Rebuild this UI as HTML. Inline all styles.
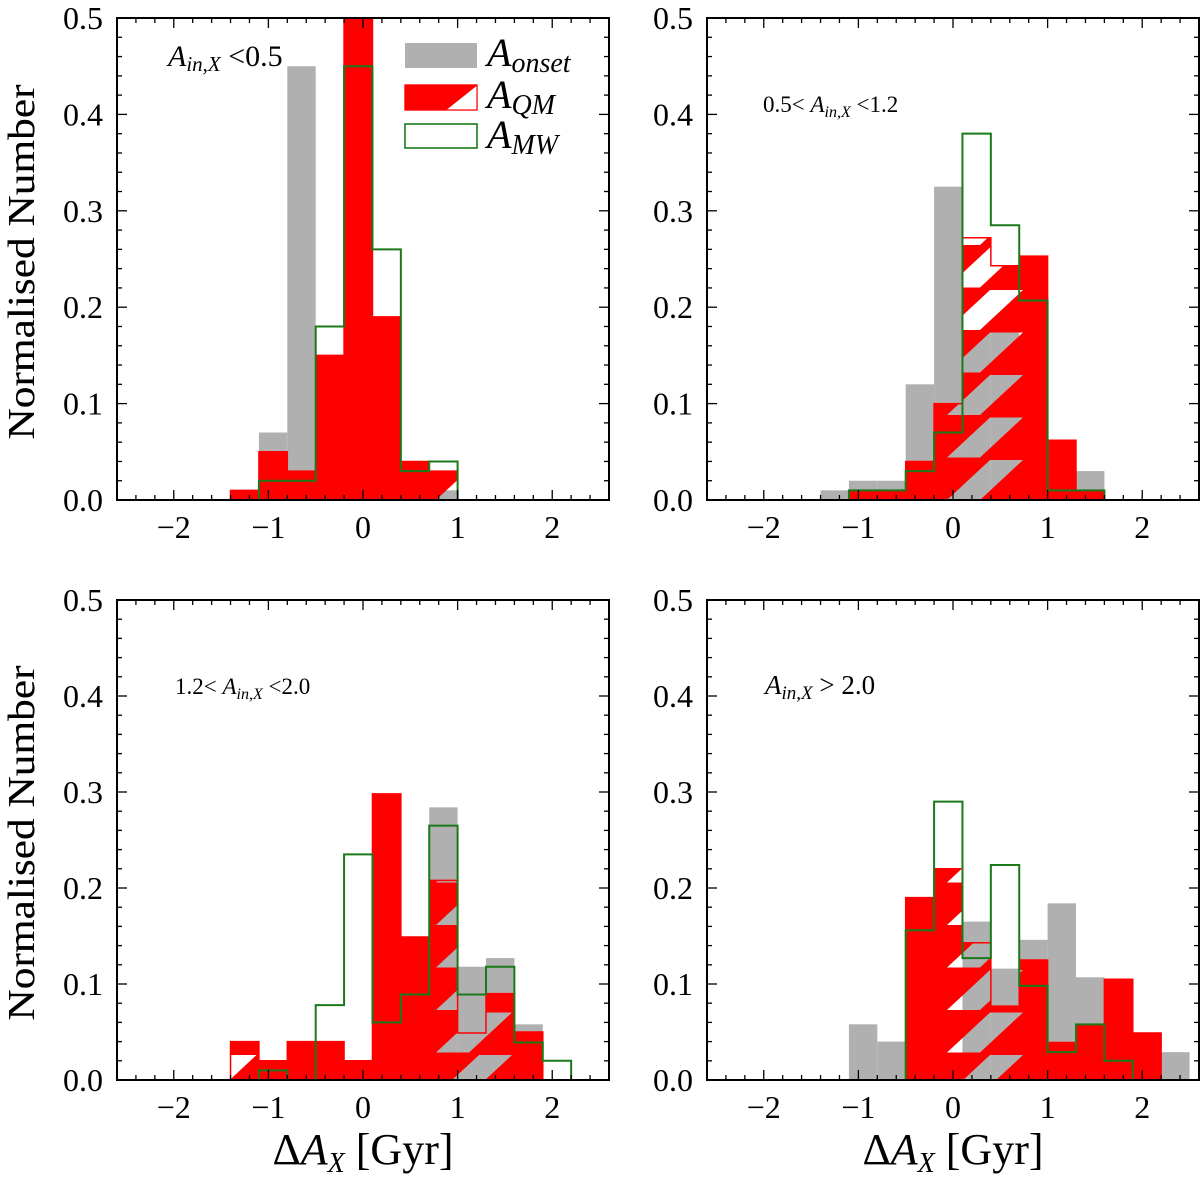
<!DOCTYPE html>
<html><head><meta charset="utf-8">
<style>
html,body{margin:0;padding:0;background:#fff;}
svg{display:block;font-family:"Liberation Serif","DejaVu Serif",serif;}
</style></head>
<body>
<svg id="fig" width="1200" height="1180" viewBox="0 0 1200 1180" xmlns="http://www.w3.org/2000/svg">
<defs>
<pattern id="holes" patternUnits="userSpaceOnUse" x="180.5" y="460" width="255.5" height="42.5">
<polygon points="43,0 76,0 33,40 0,40" fill="#000"/>
</pattern>
<mask id="hatchMask" maskUnits="userSpaceOnUse" x="0" y="0" width="1200" height="1180">
<rect x="0" y="0" width="1200" height="1180" fill="#fff"/>
<rect x="0" y="0" width="1200" height="1180" fill="url(#holes)"/>
</mask>
</defs>
</svg>
<script>
const binStart = -1.4;
const binWidth = 0.3;
const xTicks = [-2, -1, 0, 1, 2];
const xTickLabels = ["\u22122", "\u22121", "0", "1", "2"];
const yTicks = [0.0, 0.1, 0.2, 0.3, 0.4, 0.5];
const yTickLabels = ["0.0", "0.1", "0.2", "0.3", "0.4", "0.5"];

const tlOnset = [0, 0.07, 0.45, 0.10, 0.30, 0.04, 0, 0.01, 0, 0, 0, 0, 0];
const tlQM    = [0.01, 0.05, 0.03, 0.15, 0.50, 0.19, 0.04, 0.03, 0, 0, 0, 0, 0];
const tlMW    = [0, 0.02, 0.02, 0.18, 0.45, 0.26, 0.03, 0.04, 0, 0, 0, 0, 0];

const trOnset = [0.01, 0.02, 0.02, 0.12, 0.325, 0.175, 0.175, 0.15, 0.05, 0.03, 0, 0, 0];
const trQM    = [0, 0.01, 0.01, 0.04, 0.10, 0.272, 0.243, 0.253, 0.062, 0.01, 0, 0, 0];
const trMW    = [0, 0.01, 0.01, 0.03, 0.07, 0.38, 0.285, 0.207, 0.01, 0.01, 0, 0, 0];

const blOnset = [0, 0, 0, 0, 0, 0.20, 0.10, 0.284, 0.118, 0.127, 0.058, 0, 0];
const blQM    = [0.04, 0.02, 0.04, 0.04, 0.02, 0.298, 0.149, 0.208, 0.049, 0.09, 0.05, 0, 0];
const blMW    = [0, 0.01, 0, 0.078, 0.235, 0.06, 0.089, 0.265, 0.089, 0.118, 0.039, 0.02, 0];

const brOnset = [0, 0.058, 0.04, 0.10, 0.02, 0.165, 0.116, 0.146, 0.184, 0.107, 0.09, 0.04, 0.029];
const brQM    = [0, 0, 0, 0.19, 0.22, 0.143, 0.077, 0.125, 0.039, 0.058, 0.105, 0.049, 0];
const brMW    = [0, 0, 0, 0.156, 0.29, 0.127, 0.224, 0.098, 0.029, 0.058, 0.02, 0, 0];

const NS = "http://www.w3.org/2000/svg";
const svg = document.getElementById("fig");
function mk(tag, attrs, parent) {
  const e = document.createElementNS(NS, tag);
  for (const k in attrs) e.setAttribute(k, attrs[k]);
  (parent || svg).appendChild(e);
  return e;
}
const panels = [
  {id:"top-left", x0:117, x1:609, yT:18, yB:500, onset:tlOnset, qm:tlQM, mw:tlMW, xlab:false},
  {id:"top-right", x0:707, x1:1199, yT:18, yB:500, onset:trOnset, qm:trQM, mw:trMW, xlab:false},
  {id:"bottom-left", x0:117, x1:609, yT:600, yB:1080, onset:blOnset, qm:blQM, mw:blMW, xlab:true},
  {id:"bottom-right", x0:707, x1:1199, yT:600, yB:1080, onset:brOnset, qm:brQM, mw:brMW, xlab:true}
];
panels.forEach(p => {
  const sx = v => p.x0 + (v + 2.6) / 5.2 * (p.x1 - p.x0);
  const sy = v => p.yB - v / 0.5 * (p.yB - p.yT);
  const g = mk("g", {});
  
  
  p.onset.forEach((v, i) => {
    if (v <= 0) return;
    const a = sx(binStart + i * binWidth), b = sx(binStart + (i + 1) * binWidth);
    const r = mk("rect", {x:a, y:sy(v), width:b - a, height:sy(0) - sy(v), fill:"#b0b0b0"}, g);
    
    
  });
  const qg = mk("g", {mask:"url(#hatchMask)"}, g);
  p.qm.forEach((v, i) => {
    if (v <= 0) return;
    const a = sx(binStart + i * binWidth), b = sx(binStart + (i + 1) * binWidth);
    const r = mk("rect", {x:a, y:sy(v), width:b - a + 0.3, height:sy(0) - sy(v), fill:"#ff0000"}, qg);
    
    
  });
  function stepPath(arr) {
    let d = "", started = false, last = 0;
    arr.forEach((v, i) => {
      const a = sx(binStart + i * binWidth), b = sx(binStart + (i + 1) * binWidth);
      if (!started) { if (v <= 0) return; d += "M" + a + "," + sy(0); started = true; }
      d += " L" + a + "," + sy(v) + " L" + b + "," + sy(v);
      last = b;
    });
    d += " L" + last + "," + sy(0);
    return d;
  }
  const qo = mk("path", {d:stepPath(p.qm), fill:"none", stroke:"#ff0000", "stroke-width":1.5}, g);
  
  
  const mo = mk("path", {d:stepPath(p.mw), fill:"none", stroke:"#1a7a1a", "stroke-width":2}, g);
  
  
  for (let k = -26; k <= 26; k += 2) {
    const v = k / 10, x = sx(v);
    const major = Math.abs(k % 10) === 0;
    const L = major ? 10 : 5;
    mk("line", {x1:x, y1:p.yB, x2:x, y2:p.yB - L, stroke:"#000", "stroke-width":1.3}, g);
    mk("line", {x1:x, y1:p.yT, x2:x, y2:p.yT + L, stroke:"#000", "stroke-width":1.3}, g);
  }
  for (let k = 0; k <= 25; k++) {
    const v = k * 0.02, y = sy(v);
    const major = k % 5 === 0;
    const L = major ? 10 : 5;
    mk("line", {x1:p.x0, y1:y, x2:p.x0 + L, y2:y, stroke:"#000", "stroke-width":1.3}, g);
    mk("line", {x1:p.x1, y1:y, x2:p.x1 - L, y2:y, stroke:"#000", "stroke-width":1.3}, g);
  }
  const fr = mk("rect", {x:p.x0, y:p.yT, width:p.x1 - p.x0, height:p.yB - p.yT, fill:"none", stroke:"#000", "stroke-width":2}, g);
  
  
  xTicks.forEach((v, i) => {
    const t = mk("text", {x:sx(v), y:p.yB + 38, "font-size":32, "text-anchor":"middle"}, g);
    t.textContent = xTickLabels[i];
    
    
  });
  yTicks.forEach((v, i) => {
    const t = mk("text", {x:p.x0 - 14, y:sy(v) + 11, "font-size":32, "text-anchor":"end"}, g);
    t.textContent = yTickLabels[i];
    
    
  });
  const ym = (p.yT + p.yB) / 2;
  const yt = mk("text", {x:0, y:0, "font-size":38, "text-anchor":"middle", textLength:355, lengthAdjust:"spacingAndGlyphs", transform:"translate(34," + (ym + 3) + ") rotate(-90)"}, g);
  yt.textContent = "Normalised Number";
  
  
  if (p.xlab) {
    const xt = mk("text", {x:sx(0), y:1164, "font-size":44, "text-anchor":"middle"}, g);
    xt.innerHTML = 'Δ<tspan font-style="italic">A</tspan><tspan font-style="italic" font-size="28" dy="8">X</tspan><tspan dy="-8"> [Gyr]</tspan>';
    
    
  }
});
const ann = [
  {x:168, y:66, fs:30, pre:"", post:" <0.5", name:"range-label-top-left"},
  {x:763, y:112, fs:23, pre:"0.5< ", post:" <1.2", name:"range-label-top-right"},
  {x:175, y:694, fs:23, pre:"1.2< ", post:" <2.0", name:"range-label-bottom-left"},
  {x:765, y:694, fs:27, pre:"", post:" > 2.0", name:"range-label-bottom-right"}
];
ann.forEach(a => {
  const t = mk("text", {x:a.x, y:a.y, "font-size":a.fs});
  t.innerHTML = a.pre + '<tspan font-style="italic">A</tspan><tspan font-style="italic" font-size="' + Math.round(a.fs*0.7) + '" dy="5">in,X</tspan><tspan dy="-5">' + a.post + '</tspan>';
  
  
});
const lg = mk("g", {});


const s1 = mk("rect", {x:405, y:43, width:72, height:25, fill:"#b0b0b0"}, lg);


const s2 = mk("rect", {x:405, y:85, width:72, height:25, fill:"#ff0000", stroke:"#ff0000", "stroke-width":1.2}, lg);


mk("polygon", {points:"447,109.5 476.5,109.5 476.5,86", fill:"#fff"}, lg);
mk("rect", {x:405, y:85, width:72, height:25, fill:"none", stroke:"#ff0000", "stroke-width":1.2}, lg);
const s3 = mk("rect", {x:405, y:124, width:72, height:24, fill:"#fff", stroke:"#1a7a1a", "stroke-width":1.6}, lg);


[["onset", 66], ["QM", 108], ["MW", 148]].forEach(([sub, y]) => {
  const t = mk("text", {x:487, y:y, "font-size":40}, lg);
  t.innerHTML = '<tspan font-style="italic">A</tspan><tspan font-style="italic" font-size="28" dy="6">' + sub + '</tspan>';
  
  
});
</script>
</body></html>
